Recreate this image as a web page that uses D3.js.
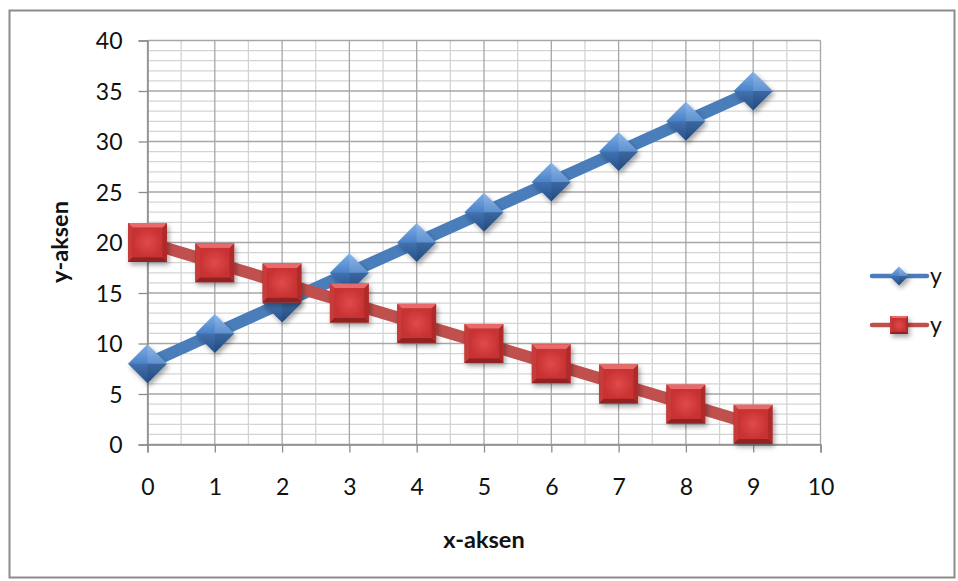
<!DOCTYPE html>
<html><head><meta charset="utf-8">
<script src="https://cdn.jsdelivr.net/npm/d3@7"></script>
<style>body{margin:0;background:#fff}svg{display:block}text{font-family:Lato,"Open Sans",sans-serif}</style>
</head><body>
<svg id="c" width="958" height="581"></svg>
<script>
const xValues = [0,1,2,3,4,5,6,7,8,9];
const blueValues = [8,11,14,17,20,23,26,29,32,35];
const redValues = [20,18,16,14,12,10,8,6,4,2];
const xTicks = [0,1,2,3,4,5,6,7,8,9,10];
const yTicks = [0,5,10,15,20,25,30,35,40];
const seriesNames = ["y","y"];

const svg = d3.select("#c");
const defs = svg.append("defs");

// border
svg.append("rect").attr("x",9.5).attr("y",10.5).attr("width",945).attr("height",567)
  .attr("fill","#fff").attr("stroke","#8c8c8c").attr("stroke-width",2);

const x = d3.scaleLinear().domain([0,10]).range([147.5,820.5]);
const y = d3.scaleLinear().domain([0,40]).range([444.5,40.5]);

// gradients
const bg = defs.append("linearGradient").attr("id","bgrad").attr("x1",0).attr("y1",0).attr("x2",0).attr("y2",1);
bg.append("stop").attr("offset","0%").attr("stop-color","#7eaee6");
bg.append("stop").attr("offset","50%").attr("stop-color","#4a82c8");
bg.append("stop").attr("offset","100%").attr("stop-color","#2c5c9e");
const rg = defs.append("radialGradient").attr("id","rgrad");
rg.append("stop").attr("offset","0%").attr("stop-color","#e04a4a");
rg.append("stop").attr("offset","100%").attr("stop-color","#c83232");
const sh = defs.append("filter").attr("id","sh").attr("x","-30%").attr("y","-30%").attr("width","170%").attr("height","170%");
sh.append("feDropShadow").attr("dx",2).attr("dy",3).attr("stdDeviation",2.5).attr("flood-color","#000").attr("flood-opacity",0.35);

// minor grid
const g = svg.append("g");
d3.range(0,41,1).filter(v=>v%5!==0).forEach(v=>{
  g.append("line").attr("x1",x(0)).attr("x2",x(10)).attr("y1",y(v)).attr("y2",y(v)).attr("stroke","#d4d4d4").attr("stroke-width",1.3);
});
d3.range(0.5,10,1).forEach(v=>{
  g.append("line").attr("x1",x(v)).attr("x2",x(v)).attr("y1",y(0)).attr("y2",y(40)).attr("stroke","#d4d4d4").attr("stroke-width",1.3);
});
// major grid
yTicks.forEach(v=>{
  g.append("line").attr("x1",x(0)).attr("x2",x(10)).attr("y1",y(v)).attr("y2",y(v)).attr("stroke","#a6a6a6").attr("stroke-width",1.3);
});
xTicks.forEach(v=>{
  g.append("line").attr("x1",x(v)).attr("x2",x(v)).attr("y1",y(0)).attr("y2",y(40)).attr("stroke","#a6a6a6").attr("stroke-width",1.3);
});

// axes
const yAxis = d3.axisLeft(y).tickValues(yTicks).tickSize(9).tickPadding(16);
const ya = svg.append("g").attr("transform",`translate(${x(0)},0)`).call(yAxis);
const xAxis = d3.axisBottom(x).tickValues(xTicks).tickSize(8).tickPadding(26);
const xa = svg.append("g").attr("transform",`translate(0,${y(0)})`).call(xAxis);
[ya,xa].forEach(a=>{
  a.select(".domain").attr("stroke","#8c8c8c").attr("stroke-width",1.5);
  a.selectAll(".tick line").attr("stroke","#8c8c8c").attr("stroke-width",1.3);
  a.selectAll(".tick text").attr("fill","#111").style("font-size","23px").style("font-family","Lato,sans-serif");
});
ya.selectAll(".tick text").attr("dy","0.36em");

svg.append("text").attr("x",484).attr("y",548).attr("text-anchor","middle")
  .style("font-size","23.5px").style("font-weight","bold").attr("fill","#111").text("x-aksen");
svg.append("text").attr("transform","translate(68,242) rotate(-90)").attr("text-anchor","middle")
  .style("font-size","23.5px").style("font-weight","bold").attr("fill","#111").text("y-aksen");

const line = d3.line().x((d,i)=>x(xValues[i])).y(d=>y(d));

function diamond(sel, cx, cy, r){
  const gg = sel.append("g").attr("transform",`translate(${cx},${cy})`).attr("filter","url(#sh)");
  gg.append("path").attr("d",`M0,${-r}L${r},0L0,${r}L${-r},0Z`).attr("fill","url(#bgrad)");
  gg.append("path").attr("d",`M0,${-r}L${r},0L0,0Z`).attr("fill","#ffffff").attr("opacity",0.12);
  gg.append("path").attr("d",`M0,${r}L${-r},0L0,0Z`).attr("fill","#000").attr("opacity",0.12);
  gg.append("path").attr("d",`M0,${r}L${r},0L0,0Z`).attr("fill","#000").attr("opacity",0.2);
}
function square(sel, cx, cy, s){
  const gg = sel.append("g").attr("transform",`translate(${cx},${cy})`).attr("filter","url(#sh)");
  const h = s/2, b = s*0.12;
  gg.append("rect").attr("x",-h).attr("y",-h).attr("width",s).attr("height",s).attr("fill","#b02a2a");
  gg.append("path").attr("d",`M${-h},${-h}L${h},${-h}L${h-b},${-h+b}L${-h+b},${-h+b}Z`).attr("fill","#e86a6a");
  gg.append("path").attr("d",`M${-h},${-h}L${-h+b},${-h+b}L${-h+b},${h-b}L${-h},${h}Z`).attr("fill","#c83a3a");
  gg.append("path").attr("d",`M${-h},${h}L${h},${h}L${h-b},${h-b}L${-h+b},${h-b}Z`).attr("fill","#8f2222");
  gg.append("rect").attr("x",-h+b).attr("y",-h+b).attr("width",s-2*b).attr("height",s-2*b).attr("fill","url(#rgrad)");
}

// blue series
svg.append("path").datum(blueValues).attr("d",line).attr("fill","none").attr("stroke","#4a7ebb").attr("stroke-width",12).attr("stroke-linejoin","round");
const bm = svg.append("g");
blueValues.forEach((v,i)=>diamond(bm, x(xValues[i]), y(v), 19.5));
// red series
svg.append("path").datum(redValues).attr("d",line).attr("fill","none").attr("stroke","#c0504d").attr("stroke-width",12).attr("stroke-linejoin","round");
const rm = svg.append("g");
redValues.forEach((v,i)=>square(rm, x(xValues[i]), y(v), 39));

// legend
const lg = svg.append("g");
[{c:"#4a7ebb",yy:276,t:"d"},{c:"#c0504d",yy:325,t:"s"}].forEach((d,i)=>{
  lg.append("line").attr("x1",872).attr("x2",927).attr("y1",d.yy).attr("y2",d.yy).attr("stroke",d.c).attr("stroke-width",4.5).attr("stroke-linecap","round");
  if(d.t==="d") diamond(lg, 899, d.yy, 9.5); else square(lg, 899, d.yy, 18);
  lg.append("text").attr("x",930).attr("y",d.yy).attr("dy","0.36em").style("font-size","23px").attr("fill","#111").text(seriesNames[i]);
});
</script>
</body></html>
